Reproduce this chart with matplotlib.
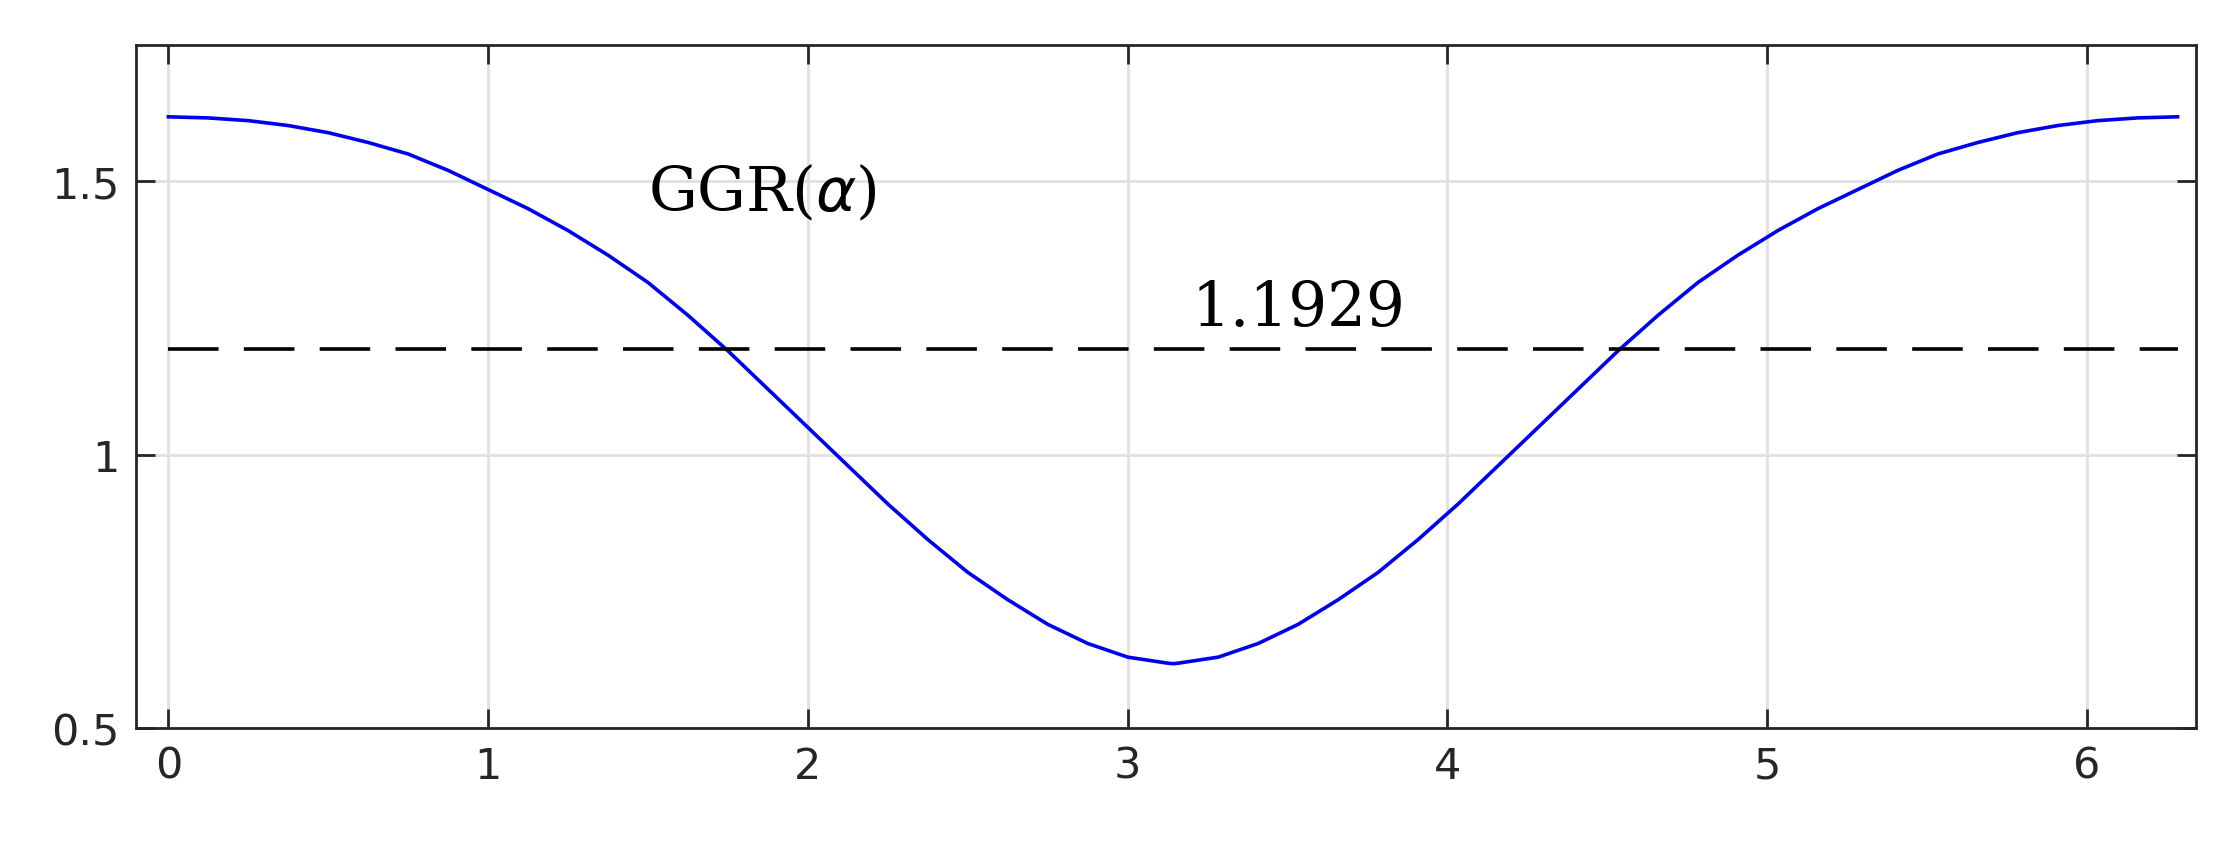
import matplotlib
matplotlib.use("Agg")
import matplotlib.pyplot as plt

x_left = [0, 0.125, 0.25, 0.375, 0.5, 0.625, 0.75, 0.875, 1.0, 1.125, 1.25, 1.375, 1.5,
          1.625, 1.75, 1.875, 2.0, 2.125, 2.25, 2.375, 2.5, 2.625, 2.75, 2.875, 3.0, 3.125]
g_left = [1.618, 1.616, 1.611, 1.602, 1.589, 1.571, 1.55, 1.52, 1.485, 1.45, 1.41, 1.365, 1.315,
          1.255, 1.19, 1.12, 1.05, 0.98, 0.91, 0.845, 0.785, 0.735, 0.69, 0.655, 0.63, 0.619]
x_mid = [3.1416]
g_mid = [0.618]
x_right = [6.2832 - v for v in reversed(x_left)]
g_right = list(reversed(g_left))
x = x_left + x_mid + x_right
ggr = g_left + g_mid + g_right
level = 1.1929
xticks = [0, 1, 2, 3, 4, 5, 6]
yticks = [0.5, 1, 1.5]
yticklabels = ["0.5", "1", "1.5"]

fig = plt.figure(figsize=(22.36, 8.45), dpi=100)
ax = fig.add_axes([0.061, 0.137, 0.921, 0.809])
ax.plot(x, ggr, color="#0000ee", lw=2.6)
ax.plot([0, 6.2832], [level, level], color="black", lw=2.6, dashes=(14, 7))
ax.set_xlim(-0.1, 6.34)
ax.set_ylim(0.5, 1.75)
ax.set_xticks(xticks)
ax.set_yticks(yticks)
ax.set_yticklabels(yticklabels)
ax.grid(True, color="#e0e0e0", lw=2)
ax.set_axisbelow(True)
ax.tick_params(direction="in", length=14, width=2, labelsize=31, top=True, right=True, pad=12,
               colors="#262626")
for s in ax.spines.values():
    s.set_linewidth(2)
    s.set_color("#262626")
ax.text(1.5, 1.48, r"GGR($\alpha$)", fontsize=44, family="serif", va="center", ha="left")
ax.text(3.2, 1.268, "1.1929", fontsize=44, family="serif", va="center", ha="left")
fig.savefig("out.png", dpi=100)
